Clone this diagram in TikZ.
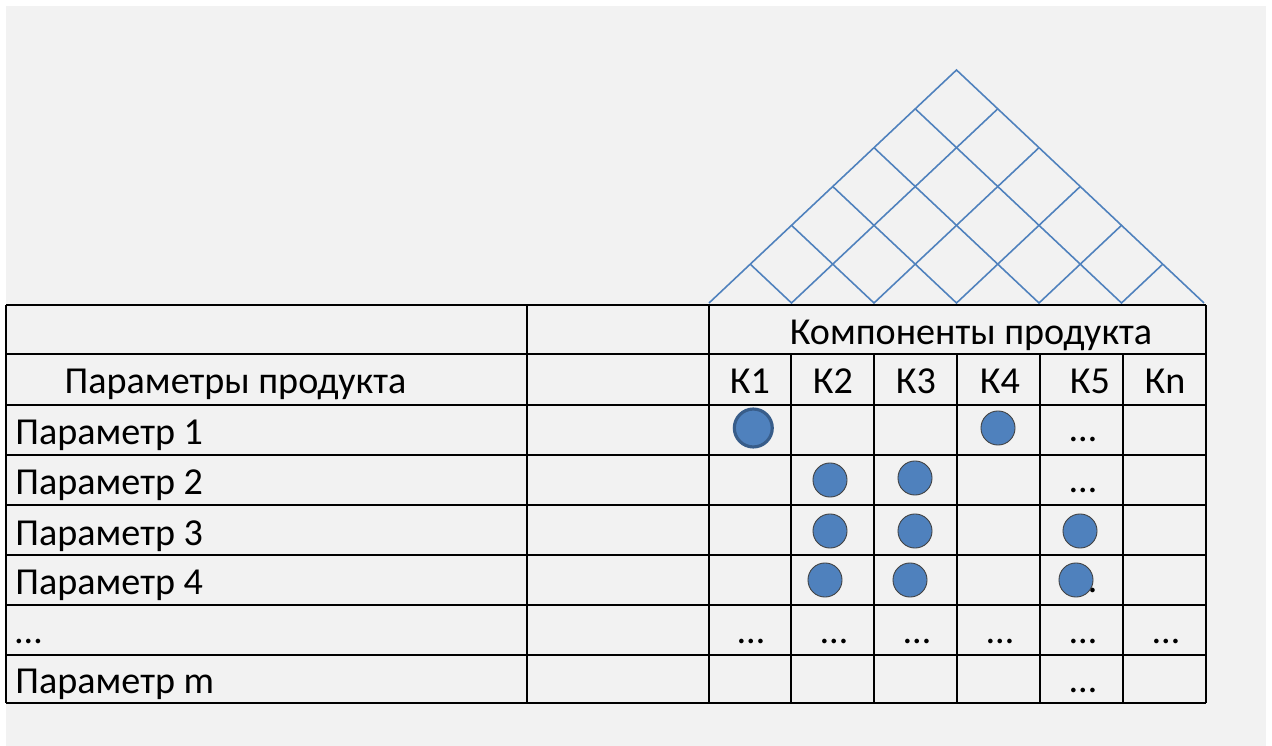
\documentclass[tikz,border=0pt]{standalone}
\usepackage{fontspec}
\setmainfont{Carlito}
\definecolor{sheetgray}{HTML}{F2F2F2}
\definecolor{roofblue}{HTML}{4F81BD}
\definecolor{dotblue}{HTML}{4F81BD}
\definecolor{dotedge}{HTML}{385D8A}
\usetikzlibrary{calc}

\begin{document}
\begin{tikzpicture}[
  x=0.02cm, y=-0.02cm,
  rule/.style={line width=1.35pt, black},
  roof/.style={line width=0.9pt, roofblue},
  cell/.style={inner sep=0pt, font=\fontsize{21.7}{26}\selectfont},
  dotmark/.style={circle, fill=dotblue, draw=black!75, line width=0.5pt, minimum size=19.4pt, inner sep=0pt},
]
\useasboundingbox (0,0) rectangle (1272,746);
\fill[sheetgray] (6,6) rectangle (1266,746);

% roof of the house
\coordinate (apex) at (956.5,70);
\foreach \i in {0,...,6} \coordinate (b\i) at ({709+82.5*\i},303);
\draw[roof] (b0) -- (apex) -- (b6);
\foreach \i in {1,...,5}
  \draw[roof] ($(b0)!\i/6!(apex)$) -- (b\i) -- ($(b6)!{(6-\i)/6}!(apex)$);

% table rules
\draw[rule] (6,305) -- (1206,305);
\draw[rule] (6,354) -- (1206,354);
\draw[rule] (6,405) -- (1206,405);
\draw[rule] (6,455) -- (1206,455);
\draw[rule] (6,505) -- (1206,505);
\draw[rule] (6,555) -- (1206,555);
\draw[rule] (6,605) -- (1206,605);
\draw[rule] (6,655) -- (1206,655);
\draw[rule] (6,703) -- (1206,703);
\draw[rule] (6,305) -- (6,703);
\draw[rule] (527,305) -- (527,703);
\draw[rule] (709,305) -- (709,703);
\draw[rule] (791,354) -- (791,703);
\draw[rule] (874,354) -- (874,703);
\draw[rule] (957,354) -- (957,703);
\draw[rule] (1040,354) -- (1040,703);
\draw[rule] (1123,354) -- (1123,703);
\draw[rule] (1206,305) -- (1206,703);

% headers
\node[cell, anchor=base] (comp) at (971,345) {Компоненты продукта};
\node[cell, anchor=base] (params) at (235.5,394) {Параметры продукта};
\node[cell, anchor=base] (k1) at (750,394) {К1};
\node[cell, anchor=base] (k2) at (833,394) {К2};
\node[cell, anchor=base] (k3) at (916,394) {К3};
\node[cell, anchor=base] (k4) at (1000,394) {К4};
\node[cell, anchor=base] (k5) at (1090,394) {К5};
\node[cell, anchor=base] (kn) at (1165,394) {Кn};

% rows
\node[cell, anchor=base west] (p1) at (15,445) {Параметр 1};
\node[cell, anchor=base west] (p2) at (15,495) {Параметр 2};
\node[cell, anchor=base west] (p3) at (15,545) {Параметр 3};
\node[cell, anchor=base west] (p4) at (15,595) {Параметр 4};
\node[cell, anchor=base west] (pdots) at (15,643) {…};
\node[cell, anchor=base west] (pm) at (15,693) {Параметр m};

% ellipses in the cells
\node[cell, anchor=base] (e15) at (1083,442) {…};
\node[cell, anchor=base] (e25) at (1083,493) {…};
\node[cell, anchor=base] (e45) at (1083,593) {…};
\node[cell, anchor=base] (e51) at (751,643) {…};
\node[cell, anchor=base] (e52) at (834,643) {…};
\node[cell, anchor=base] (e53) at (917,643) {…};
\node[cell, anchor=base] (e54) at (1000,643) {…};
\node[cell, anchor=base] (e55) at (1083,643) {…};
\node[cell, anchor=base] (e56) at (1166,643) {…};
\node[cell, anchor=base] (em5) at (1083,692) {…};

% links
\node[dotmark, draw=dotedge, line width=1.8pt, minimum size=21.6pt] (c11) at (753.3,428) {};
\node[dotmark] (c14) at (998,428) {};
\node[dotmark] (c22) at (830,480) {};
\node[dotmark] (c23) at (915,478) {};
\node[dotmark] (c32) at (830,531) {};
\node[dotmark] (c33) at (915,531) {};
\node[dotmark] (c35) at (1080,531) {};
\node[dotmark] (c42) at (825,580) {};
\node[dotmark] (c43) at (910,580) {};
\node[dotmark] (c45) at (1076,580) {};
\end{tikzpicture}
\end{document}
